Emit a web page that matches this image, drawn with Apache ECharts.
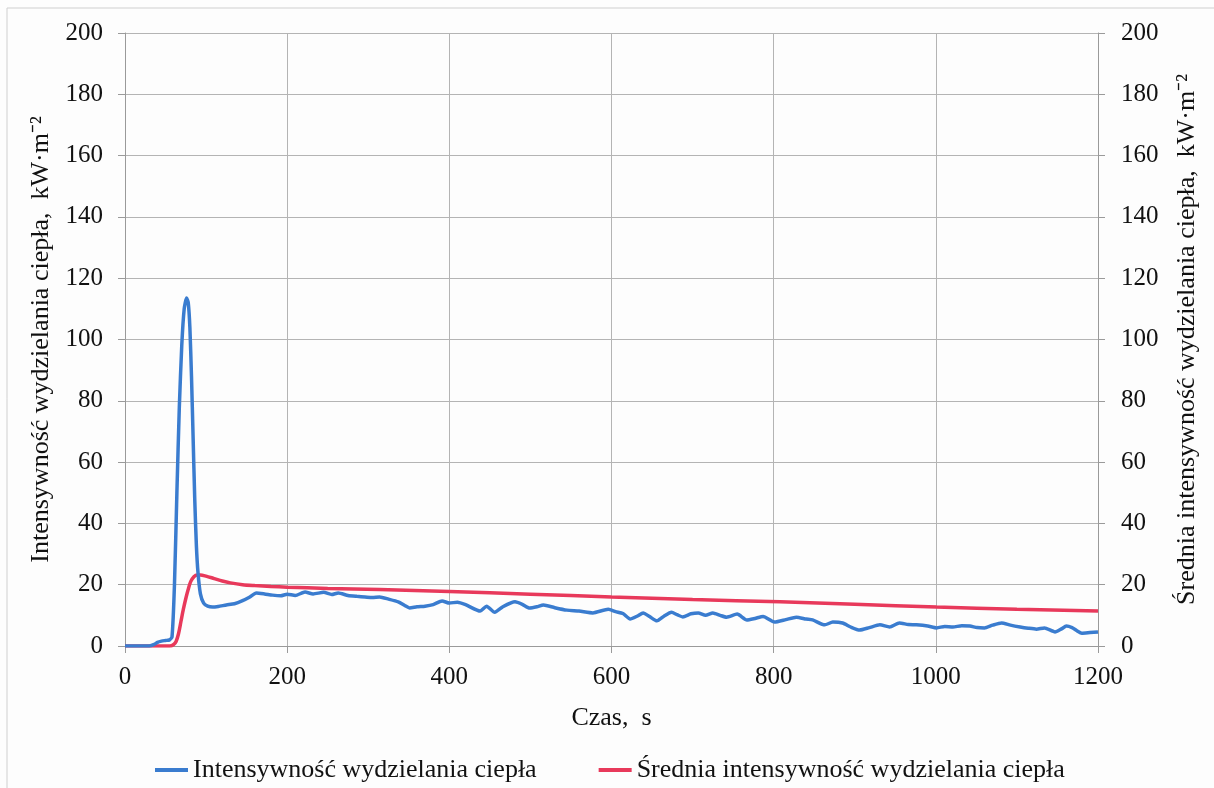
<!DOCTYPE html>
<html>
<head>
<meta charset="utf-8">
<script src="https://cdn.jsdelivr.net/npm/echarts@6/dist/echarts.min.js"></script>
<style>
html, body { margin: 0; padding: 0; background: #fdfdfd; }
#chart { width: 1214px; height: 788px; }
</style>
</head>
<body>
<div id="chart"></div>
<script>
// Intensywność wydzielania ciepła (HRR) - czas [s], wartość [kW/m2]
const hrrTime = [0, 30, 36, 40, 45, 50, 55, 58, 61, 64, 67, 70, 73, 76, 78, 80, 82, 84, 86, 88, 90, 93, 97, 102, 108, 115, 125, 135, 145, 154, 162, 172, 182, 192, 200, 210, 222, 232, 245, 255, 263, 275, 286, 296, 305, 314, 325, 337, 345, 351, 360, 370, 380, 391, 400, 410, 420, 438, 446, 456, 466, 481, 490, 499, 508, 516, 530, 545, 560, 577, 596, 605, 614, 623, 632, 639, 647, 656, 665, 674, 681, 688, 698, 707, 716, 725, 734, 742, 755, 767, 777, 787, 801, 815, 828, 840, 848, 863, 873, 885, 895, 906, 918, 931, 943, 955, 966, 976, 990, 1001, 1011, 1021, 1032, 1042, 1051, 1060, 1070, 1081, 1092, 1104, 1114, 1124, 1134, 1147, 1155, 1161, 1168, 1174, 1180, 1190, 1200]
const hrrValue = [0, 0, 0.5, 1.2, 1.6, 1.8, 2, 3, 20, 50, 78, 98, 110, 113.5, 112, 104, 88, 68, 48, 33, 24, 17, 14, 13, 12.7, 12.9, 13.4, 13.8, 14.8, 16, 17.3, 17, 16.6, 16.4, 16.9, 16.5, 17.6, 17, 17.5, 16.8, 17.3, 16.5, 16.2, 16, 15.8, 16, 15.3, 14.4, 13.2, 12.4, 12.8, 13, 13.5, 14.7, 14, 14.3, 13.5, 11.4, 13, 11, 12.8, 14.4, 13.6, 12.4, 12.8, 13.4, 12.5, 11.7, 11.4, 10.8, 12, 11.2, 10.6, 8.8, 9.8, 10.8, 9.6, 8.2, 9.8, 11, 10.2, 9.5, 10.5, 10.8, 10, 10.8, 10, 9.4, 10.4, 8.5, 9, 9.6, 7.8, 8.6, 9.4, 8.8, 8.5, 6.9, 7.8, 7.5, 6.2, 5.2, 6, 6.9, 6.2, 7.5, 7, 6.9, 6.5, 5.9, 6.4, 6.2, 6.6, 6.5, 6, 5.9, 6.8, 7.5, 6.8, 6.2, 5.8, 5.5, 5.9, 4.6, 5.6, 6.5, 6, 5, 4.2, 4.4, 4.6]

// Średnia intensywność wydzielania ciepła
const avgTime = [0, 55, 60, 63, 66, 69, 72, 75, 78, 81, 85, 89, 93, 100, 110, 120, 130, 145, 160, 180, 200, 250, 314, 400, 500, 600, 700, 808, 900, 1001, 1100, 1200]
const avgValue = [0, 0, 0.5, 1.5, 4, 8, 12, 15.5, 18.5, 21, 22.6, 23.2, 23.2, 22.8, 22, 21.2, 20.6, 20, 19.7, 19.4, 19.2, 18.8, 18.4, 17.8, 16.9, 16, 15.2, 14.4, 13.6, 12.7, 12, 11.4]

const seriesNames = ['Intensywność wydzielania ciepła', 'Średnia intensywność wydzielania ciepła']

const zip = (xs, ys) => xs.map((x, i) => [x, ys[i]])

const chart = echarts.init(document.getElementById('chart'))

const font = 'Liberation Serif, Times New Roman, serif'
const gridColor = '#b4b4b4'

const yAxisBase = {
    type: 'value',
    min: 0,
    max: 200,
    interval: 20,
    nameLocation: 'middle',
    nameRotate: 90,
    nameTextStyle: { color: '#111', fontSize: 26, fontFamily: font },
    axisLine: { show: true, lineStyle: { color: '#9a9a9a' } },
    axisTick: { show: true, length: 7, lineStyle: { color: '#9a9a9a' } },
    axisLabel: { color: '#111', fontSize: 25, fontFamily: font, margin: 22 },
    splitLine: { show: true, lineStyle: { color: gridColor } }
}

const option = {
    backgroundColor: '#fdfdfd',
    animation: false,
    textStyle: { fontFamily: font },
    graphic: [{
        type: 'rect',
        shape: { x: 7, y: 8, width: 1214, height: 800 },
        style: { fill: 'none', stroke: '#cfcfcf', lineWidth: 1 },
        silent: true
    }],
    grid: { left: 125, right: 116, top: 33, bottom: 142 },
    legend: {
        left: 150,
        top: 752,
        itemGap: 62,
        itemWidth: 33,
        itemHeight: 4,
        itemTextGap: 2,
        icon: 'rect',
        textStyle: { color: '#111', fontSize: 26, fontFamily: font },
        data: seriesNames
    },
    xAxis: {
        type: 'value',
        min: 0,
        max: 1200,
        interval: 200,
        name: 'Czas,  s',
        nameLocation: 'middle',
        nameGap: 59,
        nameTextStyle: { color: '#111', fontSize: 26, fontFamily: font },
        axisLine: { show: true, lineStyle: { color: '#9a9a9a' } },
        axisTick: { show: true, length: 7, lineStyle: { color: '#9a9a9a' } },
        axisLabel: { color: '#111', fontSize: 25, fontFamily: font, margin: 19, formatter: (v) => String(v) },
        splitLine: { show: true, lineStyle: { color: gridColor } }
    },
    yAxis: [
        Object.assign({}, yAxisBase, {
            position: 'left',
            name: 'Intensywność wydzielania ciepła,  kW·m⁻²',
            nameGap: 66
        }),
        Object.assign({}, yAxisBase, {
            position: 'right',
            name: 'Średnia intensywność wydzielania ciepła,  kW·m⁻²',
            nameGap: 76,
            axisLabel: { color: '#111', fontSize: 25, fontFamily: font, margin: 23 },
            splitLine: { show: false }
        })
    ],
    series: [
        {
            name: seriesNames[0],
            type: 'line',
            yAxisIndex: 0,
            showSymbol: false,
            smooth: 0.2,
            lineStyle: { color: '#3a7ccf', width: 3.5 },
            itemStyle: { color: '#3a7ccf' },
            data: zip(hrrTime, hrrValue),
            z: 3
        },
        {
            name: seriesNames[1],
            type: 'line',
            yAxisIndex: 1,
            showSymbol: false,
            smooth: 0.3,
            lineStyle: { color: '#e8395b', width: 3.5 },
            itemStyle: { color: '#e8395b' },
            data: zip(avgTime, avgValue),
            z: 2
        }
    ]
}

chart.setOption(option)
</script>
</body>
</html>
